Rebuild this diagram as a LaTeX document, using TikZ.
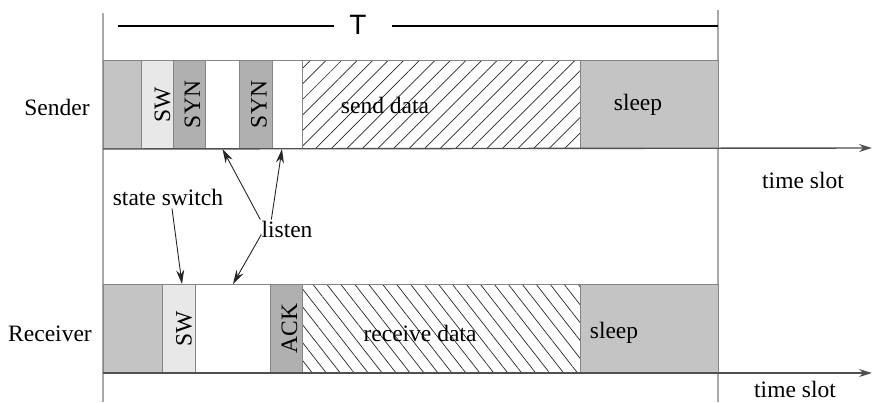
\documentclass[tikz,border=0pt]{standalone}
\usepackage{fontspec}
\setmainfont{Liberation Serif}
\newfontfamily\tfont{Liberation Sans}
\usetikzlibrary{patterns.meta,arrows.meta,calc}
\definecolor{midgray}{HTML}{C4C4C4}
\definecolor{lightgray2}{HTML}{E8E8E8}
\definecolor{darkgray2}{HTML}{B0B0B0}
\definecolor{edgegray}{HTML}{858585}
\definecolor{axisgray}{HTML}{505050}
\definecolor{vgray}{HTML}{A8A8A8}
\begin{document}
\begin{tikzpicture}[x=1pt,y=-1pt,
  font=\fontsize{23.5}{26}\selectfont,
  blk/.style={draw=edgegray,line width=1pt,inner sep=0pt,anchor=north west,minimum height=88pt},
  gblk/.style={blk,fill=midgray},
  swblk/.style={blk,fill=lightgray2},
  synblk/.style={blk,fill=darkgray2},
  wblk/.style={blk,fill=white},
  hneblk/.style={blk,pattern={Lines[angle=45,distance=11pt,line width=0.7pt]},pattern color=black!85},
  hnwblk/.style={blk,pattern={Lines[angle=-52,distance=11pt,line width=0.7pt]},pattern color=black!85},
  rot/.style={rotate=90,inner sep=0pt},
  lbl/.style={inner sep=1pt},
  axis/.style={draw=axisgray,line width=1.4pt,-{Stealth[length=13pt,width=8pt]}},
  vline/.style={draw=vgray,line width=2pt},
  pointer/.style={draw=black!85,line width=0.9pt,-{Stealth[length=14pt,width=8pt]}}
]
\useasboundingbox (0,0) rectangle (873,402);

% vertical boundary lines
\coordinate (vlt) at (103,13);
\coordinate (vlb) at (103,402);
\coordinate (vrt) at (718,10);
\coordinate (vrb) at (718,402);
\draw[vline] (vlt) -- (vlb);
\draw[vline] (vrt) -- (vrb);

% T span
\node[font=\tfont\fontsize{28}{30}\selectfont,inner xsep=15pt,inner ysep=0pt] (T) at (358,25) {T};
\coordinate (tl) at (118,26);
\coordinate (tr) at (718,26);
\draw[line width=1.5pt] (tl) -- (T.west |- tl);
\draw[line width=1.5pt] ([xshift=10pt]T.east |- tr) -- (tr);

% Sender row
\node[gblk,minimum width=38pt]  (s0) at (103,60) {};
\node[swblk,minimum width=32pt] (s1) at (141,60) {};
\node[synblk,minimum width=32pt] (s2) at (173,60) {};
\node[wblk,minimum width=34pt] (s3) at (205,60) {};
\node[synblk,minimum width=33pt] (s4) at (239,60) {};
\node[wblk,minimum width=30pt] (s5) at (272,60) {};
\node[hneblk,minimum width=278pt] (s6) at (302,60) {};
\node[gblk,minimum width=138pt] (s7) at (580,60) {};

\node[rot] (ts1) at ([xshift=5pt]s1.center) {SW};
\node[rot] (ts2) at ([xshift=3pt]s2.center) {SYN};
\node[rot] (ts4) at ([xshift=3pt]s4.center) {SYN};
\node[lbl] (ts6) at (385,105) {send data};
\node[lbl] (ts7) at (638,105) {sleep};

% Receiver row
\node[gblk,minimum width=59pt]  (r0) at (103,284) {};
\node[swblk,minimum width=33pt] (r1) at (162,284) {};
\node[wblk,minimum width=75pt] (r2) at (195,284) {};
\node[synblk,minimum width=32pt] (r3) at (270,284) {};
\node[hnwblk,minimum width=278pt] (r4) at (302,284) {};
\node[gblk,minimum width=138pt] (r5) at (580,284) {};

\node[rot] (tr1) at ([xshift=5pt]r1.center) {SW};
\node[rot] (tr3) at ([xshift=3pt]r3.center) {ACK};
\node[lbl] (tr4) at (420,333) {receive data};
\node[lbl] (tr5) at (614,333) {sleep};

% row labels
\node[lbl] (snd) at (57,107) {Sender};
\node[lbl] (rcv) at (50,334) {Receiver};

% time axes
\coordinate (e1) at (872,148);
\coordinate (e2) at (872,373);
\draw[axis] (s0.south west) -- (e1);
\draw[axis] (r0.south west) -- (e2);
\node[lbl] (ts) at (803,180) {time slot};
\node[lbl] (tsb) at (795,389) {time slot};

% annotations
\node[lbl] (ss) at (168,197) {state switch};
\node[lbl] (li) at (287,229) {listen};
\draw[pointer] ($(ss.south)+(4,2)$) -- ($(r1.north west)+(20,0)$);
\draw[pointer] (li.north west) -- (s3.south);
\draw[pointer] ($(li.north west)+(11,0)$) -- ($(s5.south west)+(10,0)$);
\draw[pointer] ($(li.south west)+(1,-4)$) -- (r2.north);
\end{tikzpicture}
\end{document}
